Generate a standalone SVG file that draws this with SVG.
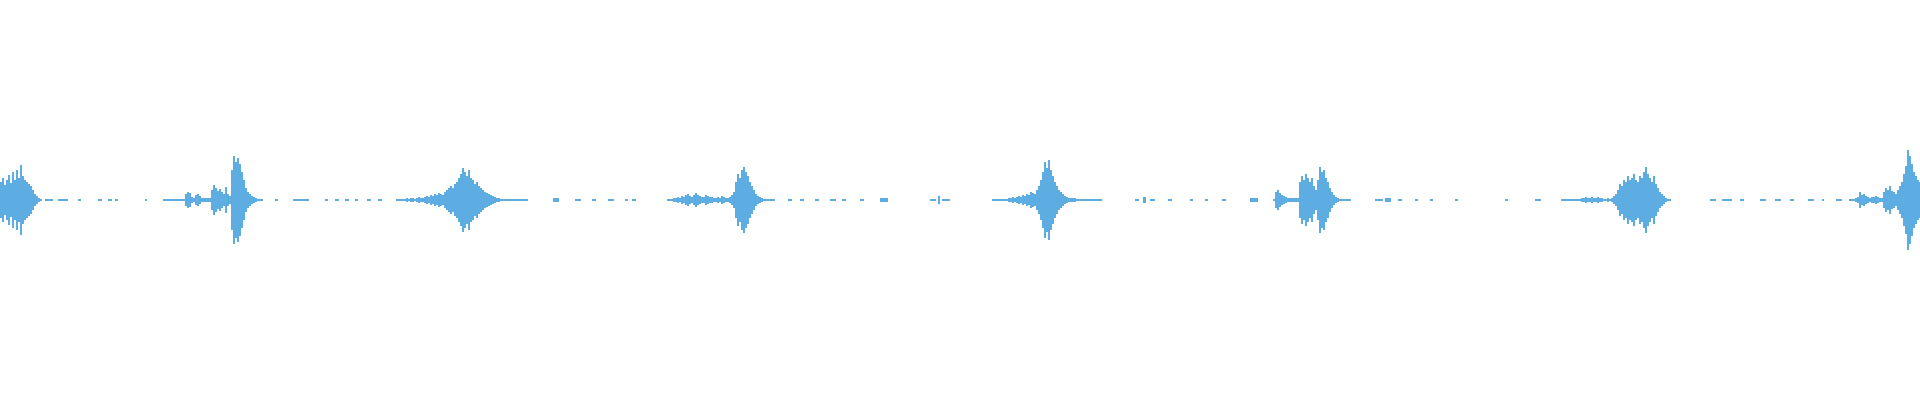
<svg xmlns="http://www.w3.org/2000/svg" width="1920" height="400" viewBox="0 0 1920 400">
<style>.w{fill:none;stroke:#5DADE2;stroke-width:2}.d{fill:#5DADE2}</style>
<rect width="1920" height="400" fill="#fff"/>
<g id="burst0" transform="translate(0,200)"><path class="w" d="M1-18V18M3-22V22M5-15V15M7-20V20M9-25V25M11-17V17M13-28V28M15-20V20M17-30V30M19-22V22M21-35V35M23-24V24M25-20V20M27-18V18M29-16V16M31-14V14M33-10V10M35-6V6M37-4V4M39-2V2M41-1V1"/></g>
<g id="burst1" transform="translate(163,200)"><path class="w" d="M1-1V1M3-1V1M5-1V1M7-1V1M9-1V1M11-1V1M13-1V1M15-1V1M17-1V1M19-1V1M21-1V1M23-6V6M25-8V8M27-7V7M29-3V3M31-2V2M33-5V5M35-6V6M37-4V4M39-2V2M41-2V2M43-2V2M45-2V2M47-2V2M49-10V10M51-15V15M53-12V12M55-9V9M57-11V11M59-8V8M61-6V6M63-13V13M65-6V6M67-4V4M69-30V30M71-44V44M73-38V38M75-42V42M77-36V36M79-28V28M81-20V20M83-12V12M85-8V8M87-6V6M89-4V4M91-3V3M93-2V2M95-1V1M97-1V1M99-1V1"/></g>
<g id="burst2" transform="translate(396,200)"><path class="w" d="M1-1V1M3-1V1M5-1V1M7-1V1M9-1V1M11-2V2M13-1V1M15-2V2M17-2V2M19-1V1M21-2V2M23-3V3M25-2V2M27-2V2M29-3V3M31-4V4M33-3V3M35-5V5M37-4V4M39-6V6M41-5V5M43-7V7M45-6V6M47-5V5M49-8V8M51-10V10M53-12V12M55-14V14M57-12V12M59-16V16M61-18V18M63-22V22M65-26V26M67-32V32M69-28V28M71-24V24M73-30V30M75-22V22M77-20V20M79-16V16M81-18V18M83-14V14M85-12V12M87-10V10M89-8V8M91-7V7M93-6V6M95-5V5M97-4V4M99-3V3M101-2V2M103-2V2M105-1V1M107-1V1M109-1V1M111-1V1M113-1V1M115-1V1M117-1V1M119-1V1M121-1V1M123-1V1M125-1V1M127-1V1M129-1V1M131-1V1"/></g>
<g id="burst3" transform="translate(667,200)"><path class="w" d="M1-1V1M3-1V1M5-1V1M7-2V2M9-2V2M11-3V3M13-2V2M15-4V4M17-3V3M19-5V5M21-6V6M23-4V4M25-3V3M27-5V5M29-7V7M31-5V5M33-4V4M35-3V3M37-3V3M39-5V5M41-4V4M43-3V3M45-3V3M47-2V2M49-2V2M51-3V3M53-2V2M55-4V4M57-3V3M59-2V2M61-2V2M63-3V3M65-5V5M67-8V8M69-18V18M71-26V26M73-22V22M75-30V30M77-33V33M79-28V28M81-24V24M83-18V18M85-14V14M87-10V10M89-6V6M91-4V4M93-3V3M95-2V2M97-1V1M99-1V1M101-1V1M103-1V1M105-1V1M107-1V1"/></g>
<g id="burst4" transform="translate(992,200)"><path class="w" d="M1-1V1M3-1V1M5-1V1M7-1V1M9-1V1M11-1V1M13-1V1M15-1V1M17-2V2M19-2V2M21-3V3M23-2V2M25-3V3M27-4V4M29-3V3M31-5V5M33-4V4M35-6V6M37-5V5M39-8V8M41-7V7M43-6V6M45-10V10M47-14V14M49-20V20M51-28V28M53-38V38M55-32V32M57-40V40M59-30V30M61-24V24M63-18V18M65-14V14M67-10V10M69-8V8M71-6V6M73-4V4M75-3V3M77-2V2M79-2V2M81-2V2M83-2V2M85-1V1M87-1V1M89-1V1M91-1V1M93-1V1M95-1V1M97-1V1M99-1V1M101-1V1M103-1V1M105-1V1M107-1V1M109-1V1"/></g>
<g id="burst5" transform="translate(1273,200)"><path class="w" d="M1-1V1M3-8V8M5-10V10M7-7V7M9-5V5M11-4V4M13-3V3M15-2V2M17-2V2M19-2V2M21-2V2M23-2V2M25-2V2M27-18V18M29-24V24M31-20V20M33-26V26M35-22V22M37-18V18M39-22V22M41-14V14M43-10V10M45-20V20M47-33V33M49-28V28M51-30V30M53-22V22M55-18V18M57-12V12M59-8V8M61-5V5M63-3V3M65-2V2M67-1V1M69-1V1M71-1V1M73-1V1M75-1V1M77-1V1"/></g>
<g id="burst6" transform="translate(1561,200)"><path class="w" d="M1-1V1M3-1V1M5-1V1M7-1V1M9-1V1M11-1V1M13-1V1M15-1V1M17-1V1M19-1V1M21-2V2M23-2V2M25-3V3M27-2V2M29-2V2M31-3V3M33-2V2M35-2V2M37-3V3M39-2V2M41-2V2M43-1V1M45-1V1M47-2V2M49-1V1M51-2V2M53-4V4M55-6V6M57-10V10M59-16V16M61-14V14M63-20V20M65-18V18M67-24V24M69-20V20M71-22V22M73-26V26M75-20V20M77-18V18M79-24V24M81-22V22M83-28V28M85-33V33M87-26V26M89-22V22M91-18V18M93-24V24M95-16V16M97-12V12M99-8V8M101-6V6M103-4V4M105-2V2M107-1V1M109-1V1"/></g>
<g id="burst7" transform="translate(1849,200)"><path class="w" d="M1-1V1M3-1V1M5-1V1M7-2V2M9-3V3M11-8V8M13-5V5M15-6V6M17-4V4M19-3V3M21-2V2M23-3V3M25-3V3M27-4V4M29-3V3M31-2V2M33-2V2M35-8V8M37-12V12M39-10V10M41-14V14M43-9V9M45-8V8M47-6V6M49-10V10M51-14V14M53-18V18M55-26V26M57-34V34M59-50V50M61-44V44M63-36V36M65-28V28M67-24V24M69-20V20M71-18V18"/></g>
<g id="dashes">
<rect class="d" x="45" y="199" width="8" height="2"/><rect class="d" x="58" y="199" width="10" height="2"/><rect class="d" x="78" y="199" width="3" height="2"/><rect class="d" x="98" y="199" width="4" height="2"/><rect class="d" x="108" y="199" width="4" height="2"/><rect class="d" x="115" y="199" width="3" height="2"/><rect class="d" x="145" y="199" width="2" height="2"/>
<rect class="d" x="275" y="199" width="3" height="2"/><rect class="d" x="293" y="199" width="16" height="2"/><rect class="d" x="325" y="199" width="3" height="2"/><rect class="d" x="335" y="199" width="4" height="2"/><rect class="d" x="345" y="199" width="4" height="2"/><rect class="d" x="355" y="199" width="3" height="2"/><rect class="d" x="367" y="199" width="4" height="2"/><rect class="d" x="378" y="199" width="4" height="2"/>
<rect class="d" x="553" y="198" width="6" height="4"/><rect class="d" x="575" y="199" width="6" height="2"/><rect class="d" x="592" y="199" width="4" height="2"/><rect class="d" x="608" y="199" width="6" height="2"/><rect class="d" x="625" y="199" width="3" height="2"/><rect class="d" x="632" y="199" width="4" height="2"/>
<rect class="d" x="788" y="199" width="4" height="2"/><rect class="d" x="800" y="199" width="4" height="2"/><rect class="d" x="815" y="199" width="4" height="2"/><rect class="d" x="830" y="199" width="6" height="2"/><rect class="d" x="842" y="199" width="4" height="2"/><rect class="d" x="860" y="199" width="4" height="2"/><rect class="d" x="880" y="198" width="8" height="4"/><rect class="d" x="930" y="199" width="6" height="2"/><rect class="d" x="938" y="196" width="2" height="8"/><rect class="d" x="942" y="199" width="8" height="2"/>
<rect class="d" x="1135" y="199" width="4" height="2"/><rect class="d" x="1143" y="197" width="3" height="6"/><rect class="d" x="1150" y="199" width="5" height="2"/><rect class="d" x="1168" y="199" width="4" height="2"/><rect class="d" x="1190" y="199" width="3" height="2"/><rect class="d" x="1205" y="199" width="3" height="2"/><rect class="d" x="1222" y="199" width="4" height="2"/><rect class="d" x="1250" y="198" width="8" height="4"/>
<rect class="d" x="1375" y="199" width="8" height="2"/><rect class="d" x="1385" y="198" width="6" height="4"/><rect class="d" x="1398" y="199" width="4" height="2"/><rect class="d" x="1415" y="199" width="3" height="2"/><rect class="d" x="1430" y="199" width="3" height="2"/><rect class="d" x="1455" y="199" width="3" height="2"/><rect class="d" x="1505" y="199" width="3" height="2"/><rect class="d" x="1535" y="199" width="6" height="2"/>
<rect class="d" x="1710" y="199" width="6" height="2"/><rect class="d" x="1722" y="199" width="10" height="2"/><rect class="d" x="1740" y="199" width="4" height="2"/><rect class="d" x="1760" y="199" width="6" height="2"/><rect class="d" x="1775" y="199" width="6" height="2"/><rect class="d" x="1790" y="199" width="4" height="2"/><rect class="d" x="1808" y="199" width="6" height="2"/><rect class="d" x="1822" y="199" width="2" height="2"/><rect class="d" x="1836" y="199" width="6" height="2"/>
</g>
</svg>
